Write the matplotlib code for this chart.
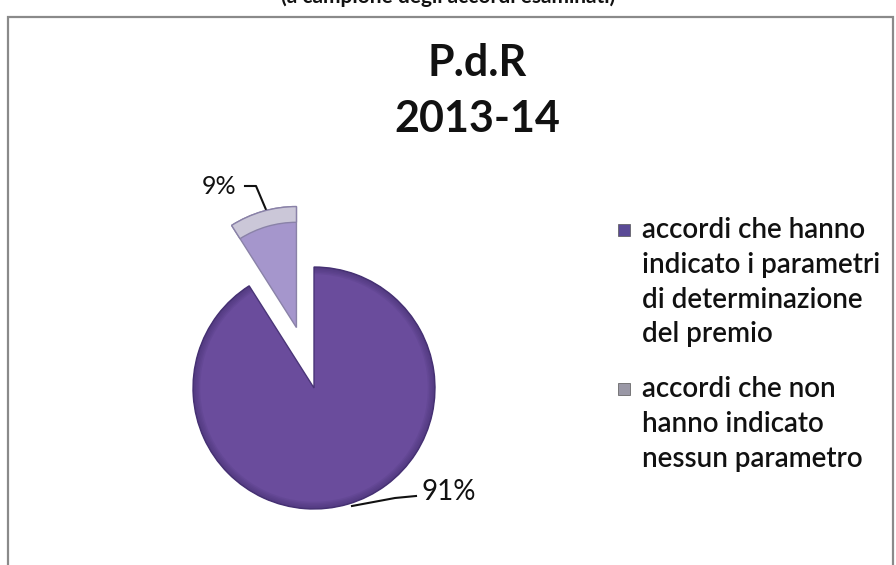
import matplotlib.pyplot as plt
from matplotlib.patches import Rectangle, Wedge

plt.rcParams['font.family'] = ['Lato', 'DejaVu Sans']

title = 'P.d.R\n2013-14'
labels = ['accordi che hanno\nindicato i parametri\ndi determinazione\ndel premio',
          'accordi che non\nhanno indicato\nnessun parametro']
shares = [91, 9]
colors = ['#6a4c9c', '#a596cc']
explode = [0, 0.52]

W, H = 896, 565
fig = plt.figure(figsize=(W / 100, H / 100), dpi=100)
fig.patch.set_facecolor('white')

# outer chart frame (bottom edge runs off the page)
frame = Rectangle((8 / W, -0.05), 885 / W, (H - 17) / H + 0.05, transform=fig.transFigure,
                  fill=False, edgecolor='#8a8a8a', linewidth=1.6)
fig.patches.append(frame)

# heading above the frame, mostly cut off by the page edge
fig.text(0.5, 1 + 3 / H, '(a campione degli accordi esaminati)', ha='center', va='center',
         fontsize=15, fontweight='bold', color='#111111')

fig.text(477 / W, 1 - 91 / H, title, ha='center', va='center', fontsize=31,
         fontweight='bold', linespacing=1.5, color='#111111')

# pie axes: 1 data unit = radius in pixels
cx, cy, r = 314, 388, 121
left, right, top, bottom = 150, 480, 160, 535
ax = fig.add_axes([left / W, 1 - bottom / H, (right - left) / W, (bottom - top) / H])

wedges, _ = ax.pie(shares, colors=colors, explode=explode, startangle=90,
                   counterclock=False, radius=1,
                   wedgeprops=dict(edgecolor='#4a3578', linewidth=1.0))
wedges[1].set_edgecolor('#8a82a8')
ax.set_aspect('auto')
ax.set_xlim(-(cx - left) / r, (right - cx) / r)
ax.set_ylim(-(bottom - cy) / r, (cy - top) / r)
ax.axis('off')

# soft shading toward the rim
for w, c in zip(wedges, ['#3f2c6a', '#7e77a0']):
    for k in range(5):
        ring = Wedge(w.center, 1, w.theta1, w.theta2, width=0.012 * (k + 1),
                     facecolor=c, alpha=0.12, edgecolor='none', zorder=3)
        ax.add_patch(ring)

# bevel on the outer edge of the small slice
w = wedges[1]
bevel = Wedge(w.center, 1, w.theta1, w.theta2, width=0.13,
              facecolor='#cbc7d8', edgecolor='#8a82a8', linewidth=1.0, zorder=4)
ax.add_patch(bevel)

# value labels with leader lines
def px(x, y):
    return ((x - cx) / r, (cy - y) / r)

lx, ly = zip(px(245, 186), px(256, 186), px(267, 212))
ax.plot(lx, ly, color='#111111', lw=1.5, clip_on=False)
ax.text(*px(219, 186), '%d%%' % shares[1], ha='center', va='center', fontsize=18,
        color='#111111')

lx, ly = zip(px(352, 506), px(395, 498), px(416, 496))
ax.plot(lx, ly, color='#111111', lw=1.5, clip_on=False)
ax.text(*px(449, 492), '%d%%' % shares[0], ha='center', va='center', fontsize=20,
        color='#111111')

# legend drawn as text blocks with colour keys
y0 = [230, 389]
for lab, col, yy in zip(labels, ['#5a4a96', '#9a98a6'], y0):
    fig.patches.append(Rectangle((618 / W, 1 - (yy + 6) / H), 12 / W, 12 / H,
                                 transform=fig.transFigure, facecolor=col,
                                 edgecolor='#555555', linewidth=0.5))
    fig.text(642 / W, 1 - (yy - 13) / H, lab, ha='left', va='top', fontsize=20,
             fontweight='semibold', linespacing=1.42, color='#111111')

fig.savefig('out.png', dpi=100)
